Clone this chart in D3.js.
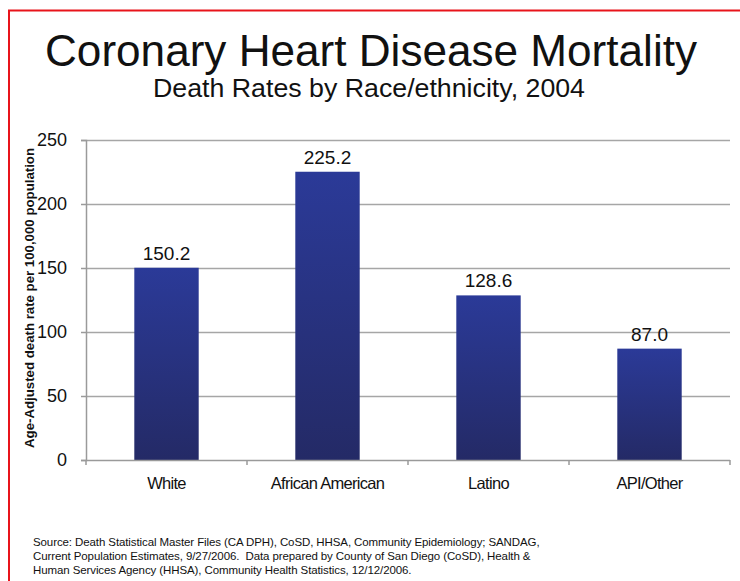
<!DOCTYPE html>
<html>
<head>
<meta charset="utf-8">
<script src="https://cdn.jsdelivr.net/npm/d3@7"></script>
<style>
  body { margin: 0; background: #fff; }
  text { font-family: "Liberation Sans", Arial, sans-serif; fill: #111; }
</style>
</head>
<body>
<svg id="chart" width="740" height="581"></svg>
<script>
var categories = ["White", "African American", "Latino", "API/Other"];
var rates = [150.2, 225.2, 128.6, 87.0];
var yTicks = [0, 50, 100, 150, 200, 250];
var sourceLines = [
  "Source: Death Statistical Master Files (CA DPH), CoSD, HHSA, Community Epidemiology; SANDAG,",
  "Current Population Estimates, 9/27/2006.  Data prepared by County of San Diego (CoSD), Health &",
  "Human Services Agency (HHSA), Community Health Statistics, 12/12/2006."
];

var svg = d3.select("#chart");

// red frame (top + left only, the slide is cropped on the other sides)
svg.append("line").attr("x1", 8).attr("x2", 740).attr("y1", 10.5).attr("y2", 10.5)
  .attr("stroke", "#e8141b").attr("stroke-width", 2);
svg.append("line").attr("x1", 9).attr("x2", 9).attr("y1", 10).attr("y2", 581)
  .attr("stroke", "#e8141b").attr("stroke-width", 2);

svg.append("text").attr("x", 371).attr("y", 66)
  .attr("text-anchor", "middle").style("font-size", "45px")
  .attr("textLength", 652).attr("lengthAdjust", "spacingAndGlyphs")
  .text("Coronary Heart Disease Mortality");
svg.append("text").attr("x", 369).attr("y", 97)
  .attr("text-anchor", "middle").style("font-size", "25px")
  .attr("textLength", 432).attr("lengthAdjust", "spacingAndGlyphs")
  .text("Death Rates by Race/ethnicity, 2004");

var margin = { left: 86, right: 730, top: 140, bottom: 460 };

var x = d3.scaleBand()
  .domain(categories)
  .range([margin.left, margin.right])
  .paddingInner(0.6)
  .paddingOuter(0.3);

var y = d3.scaleLinear().domain([0, 250]).range([margin.bottom, margin.top]);

var defs = svg.append("defs");
var grad = defs.append("linearGradient").attr("id", "barGrad")
  .attr("x1", 0).attr("y1", 0).attr("x2", 0).attr("y2", 1);
grad.append("stop").attr("offset", "0%").attr("stop-color", "#2b3a98");
grad.append("stop").attr("offset", "100%").attr("stop-color", "#242a66");

// gridlines
svg.append("g")
  .selectAll("line")
  .data(yTicks.filter(function (d) { return d > 0; }))
  .enter().append("line")
  .attr("x1", margin.left).attr("x2", margin.right)
  .attr("y1", function (d) { return y(d) + 0.5; })
  .attr("y2", function (d) { return y(d) + 0.5; })
  .attr("stroke", "#a6a6a6").attr("stroke-width", 1.5);

// y axis
var yAxis = svg.append("g")
  .attr("transform", "translate(" + margin.left + ",0)")
  .call(d3.axisLeft(y).tickValues(yTicks).tickSize(5).tickPadding(14));
yAxis.select(".domain").attr("stroke", "#9a9a9a").attr("stroke-width", 1.5);
yAxis.selectAll(".tick line").attr("stroke", "#9a9a9a").attr("stroke-width", 1.5);
yAxis.selectAll(".tick text")
  .style("font-size", "18px").style("font-family", "'Liberation Sans', Arial, sans-serif")
  .attr("fill", "#222");

// bars
svg.append("g")
  .selectAll("rect")
  .data(categories)
  .enter().append("rect")
  .attr("x", function (d) { return x(d); })
  .attr("y", function (d, i) { return y(rates[i]); })
  .attr("width", x.bandwidth())
  .attr("height", function (d, i) { return y(0) - y(rates[i]); })
  .attr("fill", "url(#barGrad)");

// value labels
svg.append("g")
  .selectAll("text")
  .data(categories)
  .enter().append("text")
  .attr("x", function (d) { return x(d) + x.bandwidth() / 2; })
  .attr("y", function (d, i) { return y(rates[i]) - 8; })
  .attr("text-anchor", "middle")
  .style("font-size", "19px")
  .attr("fill", "#222")
  .text(function (d, i) { return rates[i].toFixed(1); });

// x axis
var bounds = d3.range(categories.length + 1).map(function (i) {
  return margin.left + i * x.step();
});
svg.append("line")
  .attr("x1", margin.left).attr("x2", margin.right)
  .attr("y1", y(0) + 0.5).attr("y2", y(0) + 0.5)
  .attr("stroke", "#9a9a9a").attr("stroke-width", 1.5);
svg.append("g").selectAll("line")
  .data(bounds)
  .enter().append("line")
  .attr("x1", function (d) { return d; }).attr("x2", function (d) { return d; })
  .attr("y1", y(0)).attr("y2", y(0) + 5)
  .attr("stroke", "#9a9a9a").attr("stroke-width", 1.5);
svg.append("g").selectAll("text")
  .data(categories)
  .enter().append("text")
  .attr("x", function (d) { return x(d) + x.bandwidth() / 2; })
  .attr("y", 489)
  .attr("text-anchor", "middle")
  .style("font-size", "16.5px")
  .style("letter-spacing", "-0.7px")
  .text(function (d) { return d; });

// y axis title
svg.append("text")
  .attr("transform", "translate(34," + ((margin.top + margin.bottom) / 2 - 2) + ") rotate(-90)")
  .attr("text-anchor", "middle")
  .style("font-size", "12px")
  .style("font-weight", "bold")
  .attr("textLength", 300).attr("lengthAdjust", "spacingAndGlyphs")
  .text("Age-Adjusted death rate per 100,000  population");

// source note
svg.append("g").selectAll("text")
  .data(sourceLines)
  .enter().append("text")
  .attr("x", 33)
  .attr("y", function (d, i) { return 546 + i * 14; })
  .style("font-size", "11.5px")
  .style("letter-spacing", "-0.1px")
  .style("white-space", "pre")
  .text(function (d) { return d; });
</script>
</body>
</html>
